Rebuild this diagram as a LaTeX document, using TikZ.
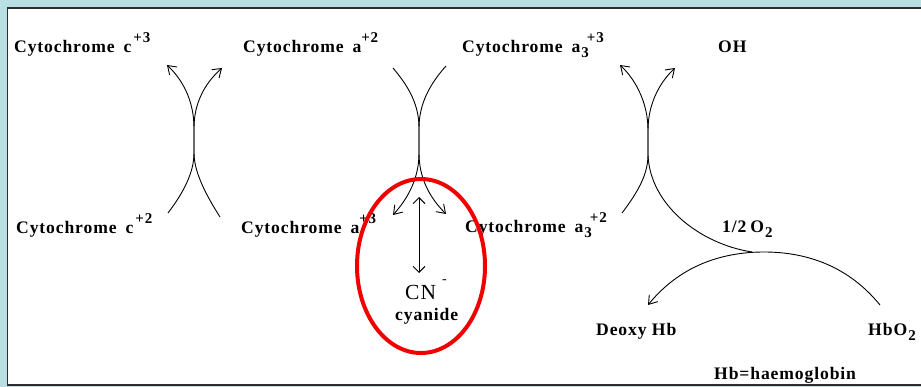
\documentclass[tikz,border=0pt]{standalone}
\usepackage{fontspec}
\setmainfont{Liberation Serif}
\newfontfamily\labfont[LetterSpace=5]{Liberation Serif}
\usetikzlibrary{arrows.meta,shapes.geometric}
\definecolor{bgblue}{RGB}{185,223,227}
\definecolor{framegray}{RGB}{45,45,45}
\definecolor{ringred}{RGB}{240,0,0}
\newcommand\upx[1]{\raisebox{10.5pt}{\fontsize{15}{15}\selectfont #1}}
\newcommand\dnx[1]{\raisebox{-5pt}{\fontsize{15}{15}\selectfont #1}}
\begin{document}
\begin{tikzpicture}[x=1pt,y=-1pt,
  lab/.style={anchor=base west, inner sep=0pt, font=\labfont\bfseries\fontsize{17.6}{19}\selectfont},
  curve/.style={line width=0.9pt, black},
  arr/.style={curve, -{Straight Barb[length=8pt,width=11pt]}},
  dblarr/.style={curve, {Straight Barb[length=6pt,width=12pt]}-{Straight Barb[length=6pt,width=12pt]}},
  ring/.style={ellipse, draw=ringred, line width=4pt, minimum width=128pt, minimum height=174pt, inner sep=0pt}]
\useasboundingbox (0,0) rectangle (921,387);
\fill[bgblue] (0,0) rectangle (921,387);
\draw[framegray, line width=1.3pt, fill=white] (7.5,8) rectangle (935,385);

% labels, upper row
\node[lab] (c3) at (14,53) {Cytochrome\hspace{9pt}c\hspace{2pt}\upx{+3}};
\node[lab] (a2) at (243,53) {Cytochrome\hspace{9pt}a\upx{+2}};
\node[lab] (a33) at (462,53) {Cytochrome\hspace{9pt}a\hspace{1pt}\dnx{3}\kern-2pt\upx{+3}};
\node[lab] (oh) at (718,53) {OH};
% labels, lower row
\node[lab] (c2) at (16,234) {Cytochrome\hspace{9pt}c\hspace{2pt}\upx{+2}};
\node[lab] (a3) at (241,234) {Cytochrome\hspace{9pt}a\upx{+3}};
\node[lab] (a32) at (465,233) {Cytochrome\hspace{9pt}a\hspace{1pt}\dnx{3}\kern-2pt\upx{+2}};
\node[lab] (halfo2) at (722,233) {1/2\hspace{4pt}O\hspace{1pt}\dnx{2}};
\node[lab] (deoxy) at (596,336) {Deoxy Hb};
\node[lab] (hbo2) at (868,336) {Hb\hspace{1pt}O\hspace{1pt}\dnx{2}};
\node[lab] (hbdef) at (714,379) {Hb=haemoglobin};
\node[anchor=base west, inner sep=0pt, font=\labfont\fontsize{21.5}{22}\selectfont] (cn) at (405,300) {CN\hspace{6pt}\raisebox{17pt}{\fontsize{14}{14}\selectfont -}};
\node[lab] (cyan) at (395,320) {cyanide};

% crossing 1
\coordinate (c1tl) at (167,65);
\coordinate (c1tr) at (222,68);
\coordinate (c1bl) at (168,213);
\coordinate (c1br) at (220,217);
\coordinate (x1a) at (194,128);
\coordinate (x1b) at (194,153);
\draw[arr] (c1bl) .. controls (184,192) and (194,172) .. (x1b) -- (x1a) .. controls (194,104) and (185,82) .. (c1tl);
\draw[arr] (c1br) .. controls (206,195) and (194,172) .. (x1b) -- (x1a) .. controls (194,104) and (204,84) .. (c1tr);

% crossing 2
\coordinate (c2tl) at (393,68);
\coordinate (c2tr) at (446,66);
\coordinate (c2bl) at (393,215);
\coordinate (c2br) at (446,214);
\coordinate (x2a) at (419,128);
\coordinate (x2b) at (419,153);
\draw[arr] (c2tl) .. controls (410,88) and (419,106) .. (x2a) -- (x2b) .. controls (419,176) and (410,196) .. (c2bl);
\draw[arr] (c2tr) .. controls (428,86) and (419,106) .. (x2a) -- (x2b) .. controls (419,176) and (428,196) .. (c2br);

% crossing 3
\coordinate (c3tl) at (620,65);
\coordinate (c3tr) at (675,68);
\coordinate (c3bl) at (622,213);
\coordinate (x3a) at (648,130);
\coordinate (x3b) at (648,155);
\coordinate (o2join) at (752,252);
\draw[arr] (c3bl) .. controls (638,192) and (648,174) .. (x3b) -- (x3a) .. controls (648,106) and (638,82) .. (c3tl);
\draw[arr] (o2join) .. controls (700,244) and (650,205) .. (x3b) -- (x3a) .. controls (648,106) and (658,84) .. (c3tr);

% haemoglobin arc
\coordinate (hbstart) at (880,305);
\coordinate (peak) at (764,252);
\coordinate (hbend) at (648,305);
\draw[arr] (hbstart) .. controls (845,262) and (800,252) .. (peak) .. controls (728,252) and (683,262) .. (hbend);

% cyanide arrow
\coordinate (cntop) at (419,197);
\coordinate (cnbot) at (419,273);
\draw[dblarr] (cntop) -- (cnbot);

% red ring
\node[ring] (ringnode) at (421,266) {};
\end{tikzpicture}
\end{document}
